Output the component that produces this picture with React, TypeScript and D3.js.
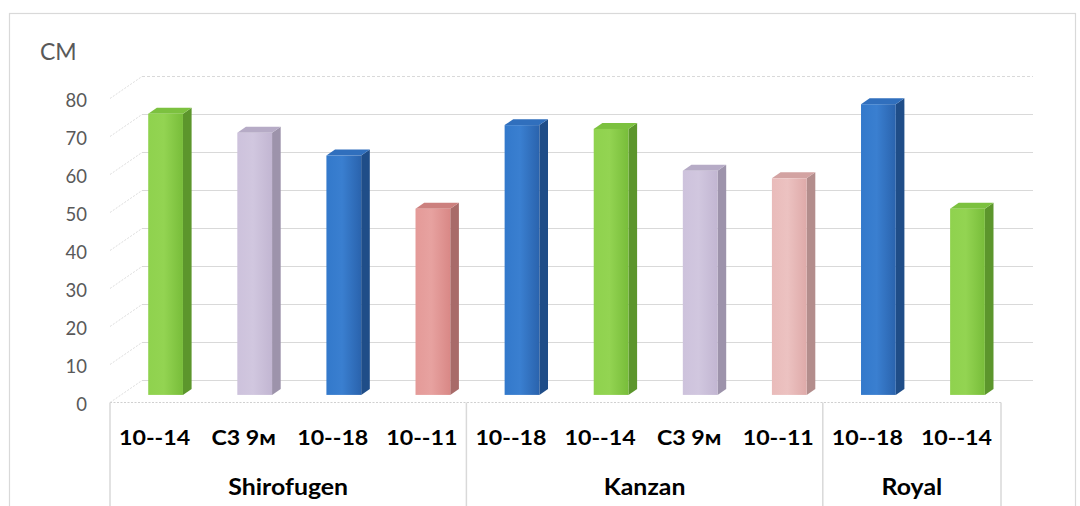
import React from "react";
import * as d3 from "d3";

// Plant height (cm) by variety and rootstock
const labels = ["10--14", "С3 9м", "10--18", "10--11", "10--18", "10--14", "С3 9м", "10--11", "10--18", "10--14"];
const varieties = ["Shirofugen", "Shirofugen", "Shirofugen", "Shirofugen", "Kanzan", "Kanzan", "Kanzan", "Kanzan", "Royal", "Royal"];
const heights = [74, 69, 63, 49, 71, 70, 59, 57, 76.5, 49];
const yTicks = [0, 10, 20, 30, 40, 50, 60, 70, 80];
const unitLabel = "СМ";

// Face colours: [front-left, front-mid, front-right, side, top]
const palettes: Record<string, string[]> = {
  green: ["#8fd24e", "#93d452", "#78bd3a", "#5c962c", "#7cc13f"],
  lilac: ["#cdc2dc", "#d1c7df", "#c2b6d2", "#9d93ab", "#b6abc6"],
  blue: ["#3379cb", "#3a7fd0", "#2a63ad", "#1f4d88", "#306fbd"],
  rose: ["#e49a98", "#e7a2a0", "#d98886", "#a86b69", "#cc807e"],
  blush: ["#e9bbba", "#ecc2c1", "#deaaa9", "#b38d8c", "#d3a3a2"],
};
const barPalette = ["green", "lilac", "blue", "rose", "blue", "green", "lilac", "blush", "blue", "green"];

const W = 1080;
const H = 506;
const frontLeft = 110;
const frontRight = 1001;
const depthX = 32;
const depthY = 22;

export default function App() {
  const x = d3.scaleBand<number>().domain(d3.range(labels.length)).range([frontLeft, frontRight]).padding(0);
  const y = d3.scaleLinear().domain([0, 80]).range([402.5, 98.5]);
  const bw = x.bandwidth();

  // bars sit part way into the depth of the plot
  const t1 = 0.345;
  const t2 = 0.615;
  const barW = bw * 0.39;
  const ddx = depthX * (t2 - t1);
  const ddy = depthY * (t2 - t1);

  // variety groups along the category axis
  const groupNames: string[] = [];
  varieties.forEach((v) => {
    if (!groupNames.includes(v)) groupNames.push(v);
  });
  const groupSpans = groupNames.map((g) => {
    const idx = varieties.map((v, i) => (v === g ? i : -1)).filter((i) => i >= 0);
    const x0 = x(idx[0])!;
    const x1 = x(idx[idx.length - 1])! + bw;
    return { name: g, x0, x1 };
  });

  const grid = "#d9d9d9";

  return (
    <svg
      width={W}
      height={H}
      style={{ position: "absolute", left: 0, top: 0, background: "#fff" }}
      fontFamily="Lato, 'Open Sans', sans-serif"
    >
      <defs>
        {Object.entries(palettes).map(([k, c]) => (
          <linearGradient key={k} id={`front-${k}`} x1="0" x2="1" y1="0" y2="0">
            <stop offset="0" stopColor={c[0]} />
            <stop offset="0.45" stopColor={c[1]} />
            <stop offset="1" stopColor={c[2]} />
          </linearGradient>
        ))}
      </defs>

      {/* chart frame */}
      <rect x={9.5} y={13.5} width={1066} height={520} fill="none" stroke="#d9d9d9" strokeWidth={1.2} />

      {/* back wall gridlines and side wall diagonals */}
      {yTicks.map((t) => {
        const yf = y(t);
        const yb = yf - depthY;
        return (
          <g key={t}>
            <line x1={frontLeft} y1={yf} x2={frontLeft + depthX} y2={yb} stroke="#dedede" strokeWidth={1} strokeDasharray="2,1.5" />
            <line
              x1={frontLeft + depthX}
              y1={yb}
              x2={frontRight + depthX}
              y2={yb}
              stroke={grid}
              strokeWidth={1.2}
              strokeDasharray={t === 80 ? "3,2" : undefined}
            />
          </g>
        );
      })}

      {/* floor front edge */}
      <line x1={frontLeft} y1={y(0)} x2={frontRight} y2={y(0)} stroke="#d0d0d0" strokeWidth={1.2} strokeDasharray="2,1.5" />

      {/* bars */}
      {heights.map((v, i) => {
        const p = palettes[barPalette[i]];
        const key = barPalette[i];
        const cx = x(i)! + bw / 2 + depthX * t1;
        const xl = cx - barW / 2;
        const xr = xl + barW;
        const y0 = y(0) - depthY * t1;
        const yt = y0 - (y(0) - y(v));
        return (
          <g key={i}>
            <path d={`M${xr},${yt}L${xr + ddx},${yt - ddy}L${xr + ddx},${y0 - ddy}L${xr},${y0}Z`} fill={p[3]} />
            <path d={`M${xl},${yt}L${xl + ddx},${yt - ddy}L${xr + ddx},${yt - ddy}L${xr},${yt}Z`} fill={p[4]} />
            <rect x={xl} y={yt} width={barW} height={y0 - yt} fill={`url(#front-${key})`} />
          </g>
        );
      })}

      {/* value axis */}
      <text x={40} y={60} fontSize={23} fill="#595959">
        {unitLabel}
      </text>
      {yTicks.map((t) => (
        <text key={t} x={87} y={y(t) + 1} fontSize={18.5} fill="#595959" textAnchor="end" dominantBaseline="central">
          {t}
        </text>
      ))}

      {/* category axis */}
      {[frontLeft, ...groupSpans.map((g) => g.x1)].map((gx, i) => (
        <line key={i} x1={gx} y1={y(0)} x2={gx} y2={H} stroke={grid} strokeWidth={1.5} />
      ))}
      {labels.map((l, i) => (
        <text
          key={i}
          transform={`translate(${x(i)! + bw / 2},445) scale(1.08,1)`}
          fontSize={21.5}
          fontWeight="bold"
          textAnchor="middle"
          fill="#000"
        >
          {l}
        </text>
      ))}
      {groupSpans.map((g) => (
        <text
          key={g.name}
          transform={`translate(${(g.x0 + g.x1) / 2},495) scale(1.13,1)`}
          fontSize={22}
          fontWeight="bold"
          textAnchor="middle"
          fill="#000"
        >
          {g.name}
        </text>
      ))}
    </svg>
  );
}
